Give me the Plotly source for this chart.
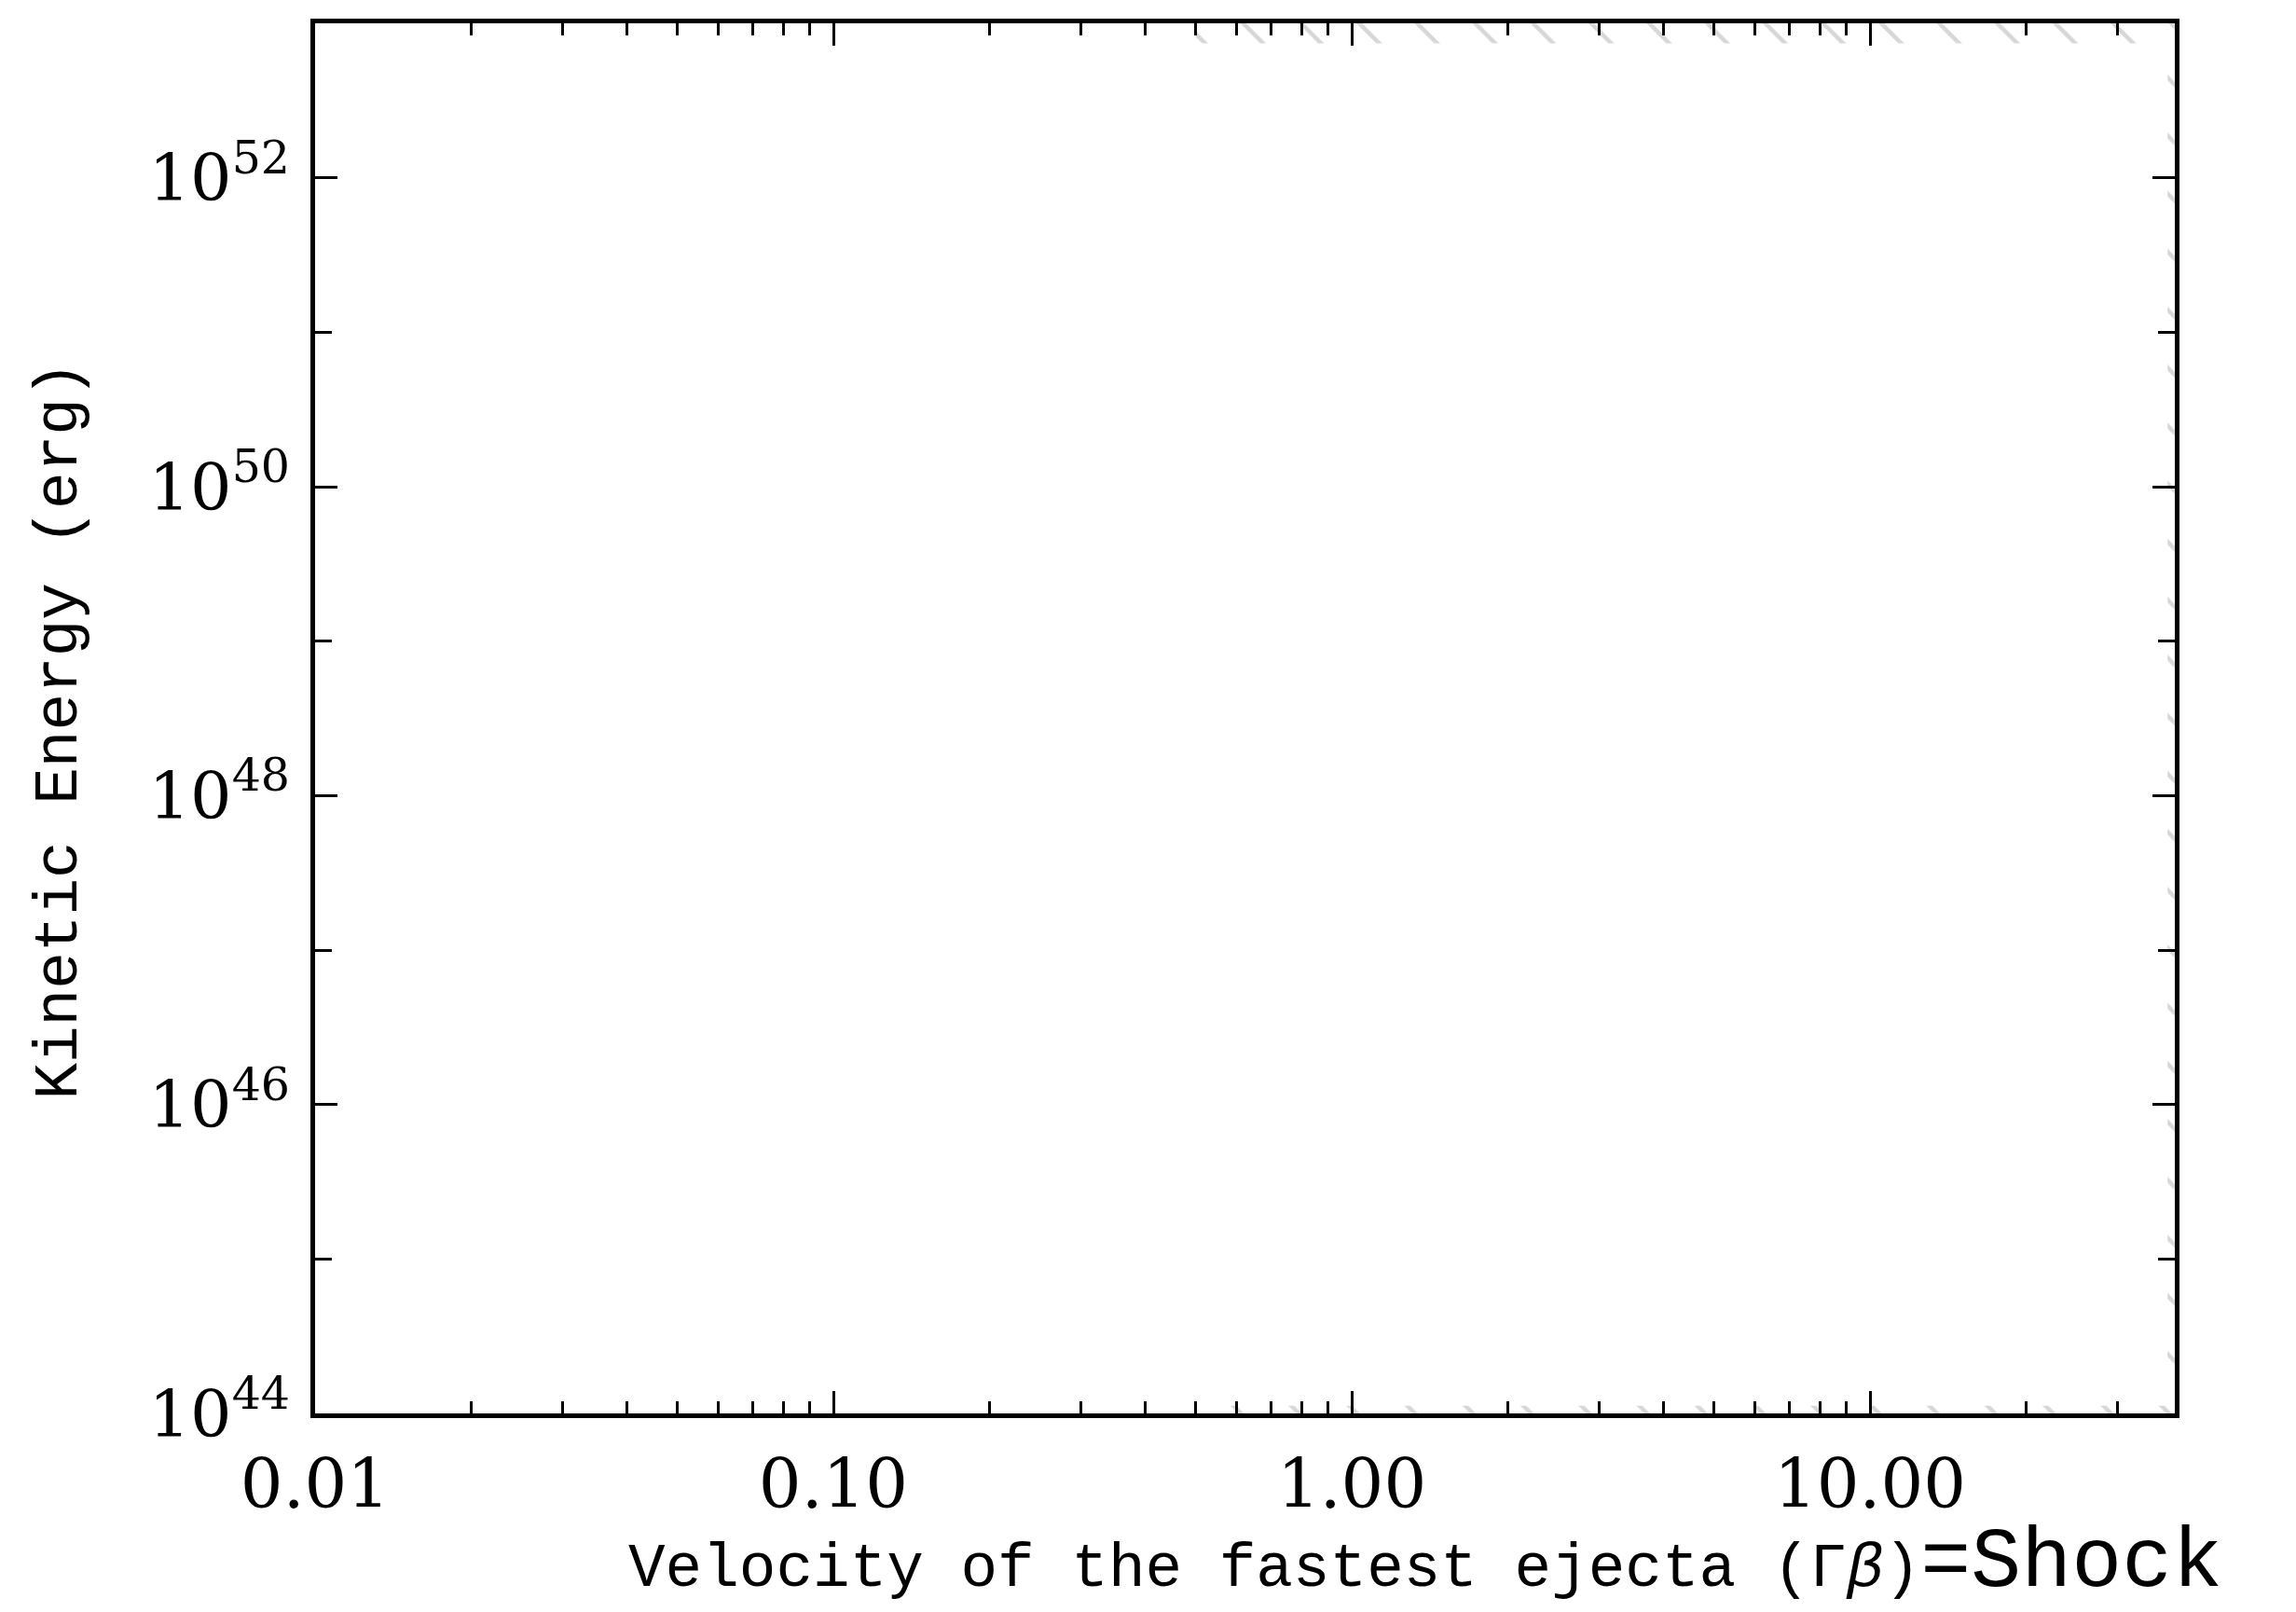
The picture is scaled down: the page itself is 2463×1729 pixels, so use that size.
import plotly.graph_objects as go

# ---- data ----
x_range_log = [-2.0, 1.588]           # velocity (Gamma beta) axis, log10
y_range_log = [44.0, 53.0]            # kinetic energy axis, log10 erg

x_tick_vals = [0.01, 0.1, 1.0, 10.0]
x_tick_text = ["0.01", "0.10", "1.00", "10.00"]
x_minor_vals = [0.02, 0.03, 0.04, 0.05, 0.06, 0.07, 0.08, 0.09,
                0.2, 0.3, 0.4, 0.5, 0.6, 0.7, 0.8, 0.9,
                2, 3, 4, 5, 6, 7, 8, 9, 20, 30]

y_tick_vals = [1e44, 1e46, 1e48, 1e50, 1e52]
y_tick_text = ["10<sup>44</sup>", "10<sup>46</sup>", "10<sup>48</sup>",
               "10<sup>50</sup>", "10<sup>52</sup>"]
y_minor_vals = [1e45, 1e47, 1e49, 1e51, 1e53]

# hatched (excluded) region edges: top band, bottom band, right band
hatch_x = [0.5, 38.7, 38.7, 0.5, 0.5, None,
           0.5, 38.7, 38.7, 0.5, 0.5, None,
           37.5, 38.7, 38.7, 37.5, 37.5]
hatch_y = [10**52.87, 10**52.87, 1e53, 1e53, 10**52.87, None,
           1e44, 1e44, 10**44.05, 10**44.05, 1e44, None,
           1e44, 1e44, 1e53, 1e53, 1e44]

fig = go.Figure()
fig.add_trace(go.Scatter(
    x=hatch_x, y=hatch_y, mode="lines", fill="toself",
    line=dict(width=0, color="rgba(0,0,0,0)"),
    fillcolor="rgba(0,0,0,0)",
    fillpattern=dict(shape="\\", fgcolor="#b0b0b0", bgcolor="rgba(0,0,0,0)",
                     size=44, solidity=0.1, fillmode="overlay"),
    hoverinfo="skip", showlegend=False))

axis_common = dict(showline=True, linewidth=5, linecolor="black", mirror="ticks",
                   ticks="inside", tickwidth=3, tickcolor="black",
                   showgrid=False, zeroline=False)

fig.update_xaxes(type="log", range=x_range_log, tickmode="array",
                 tickvals=x_tick_vals, ticktext=x_tick_text, ticklen=24,
                 tickfont=dict(family="DejaVu Serif", size=72, color="black"),
                 ticklabelstandoff=10,
                 minor=dict(tickmode="array", tickvals=x_minor_vals, ticks="inside",
                            ticklen=13, tickwidth=3, tickcolor="black", showgrid=False),
                 **axis_common)
fig.update_yaxes(type="log", range=y_range_log, tickmode="array",
                 tickvals=y_tick_vals, ticktext=y_tick_text, ticklen=24,
                 tickfont=dict(family="DejaVu Serif", size=70, color="black"),
                 ticklabelstandoff=8,
                 minor=dict(tickmode="array", tickvals=y_minor_vals, ticks="inside",
                            ticklen=18, tickwidth=3, tickcolor="black", showgrid=False),
                 **axis_common)

fig.add_annotation(
    xref="paper", yref="paper", x=0.597, y=-0.108, xanchor="center", yanchor="middle",
    text="Velocity of the fastest ejecta (Γ<i>β</i>)"
         "<span style='font-size:90px'>=Shock</span>",
    showarrow=False, font=dict(family="Liberation Mono", size=66, color="black"))

fig.add_annotation(
    xref="paper", yref="paper", x=-0.137, y=0.491, xanchor="center", yanchor="middle",
    text="Kinetic Energy (erg)", textangle=-90,
    showarrow=False, font=dict(family="Liberation Mono", size=66, color="black"))

fig.update_layout(width=2463, height=1729,
                  margin=dict(l=330, r=138, t=13, b=221),
                  paper_bgcolor="white", plot_bgcolor="white")

fig.write_html("out.html")
